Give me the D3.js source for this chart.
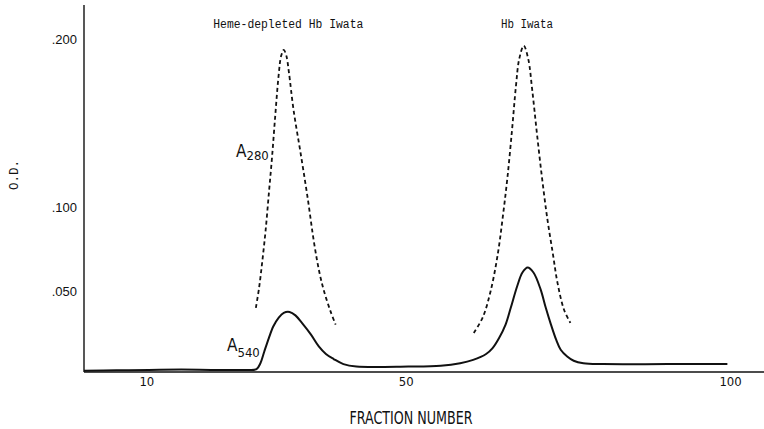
<!DOCTYPE html>
<html>
<head>
<meta charset="utf-8">
<script src="https://cdn.jsdelivr.net/npm/d3@7"></script>
<style>
  body { margin: 0; background: #fff; }
  svg { display: block; }
</style>
</head>
<body>
<svg id="chart" width="764" height="429"></svg>
<script>
// A540 (solid) trace, fraction number vs O.D.
const a540 = [
  [0, 0.0025], [5, 0.0028], [10, 0.003], [15, 0.0032], [20, 0.003], [25, 0.003],
  [26.6, 0.0035], [27.2, 0.007], [27.8, 0.014], [28.5, 0.022], [29.2, 0.029],
  [30.0, 0.034], [30.8, 0.037], [31.7, 0.0375], [32.6, 0.0355], [33.6, 0.031],
  [35, 0.024], [36.2, 0.017], [37.3, 0.0125], [38.5, 0.0095], [40, 0.0065],
  [42, 0.005], [50, 0.005], [55, 0.0055], [58, 0.007], [60, 0.009], [62, 0.0125],
  [63, 0.016], [64, 0.022], [65, 0.030], [65.8, 0.040], [66.8, 0.053], [67.6, 0.061],
  [68.4, 0.064], [69.3, 0.061], [70.4, 0.051], [71.2, 0.040], [72, 0.030],
  [72.8, 0.021], [73.5, 0.015], [74.5, 0.011], [75.5, 0.0085], [77, 0.007],
  [80, 0.0065], [90, 0.0065], [99.2, 0.0065]
]

// A280 (dashed) traces, only drawn around the two peaks
const a280Peak1 = [
  [26.5, 0.040], [27.0, 0.052], [27.5, 0.068], [28.0, 0.086], [28.5, 0.108],
  [29.0, 0.130], [29.5, 0.155], [30.0, 0.178], [30.4, 0.190], [30.8, 0.1935],
  [31.2, 0.190], [31.6, 0.180], [32.3, 0.158], [33.4, 0.132], [34.5, 0.105],
  [35.5, 0.078], [36.3, 0.061], [37.0, 0.050], [38.0, 0.038], [38.8, 0.030]
]
const a280Peak2 = [
  [60.1, 0.025], [61.5, 0.0345], [62.7, 0.050], [63.8, 0.072], [64.6, 0.095],
  [65.3, 0.118], [66.0, 0.146], [66.6, 0.172], [67.1, 0.188], [67.8, 0.196],
  [68.5, 0.188], [69.1, 0.170], [69.8, 0.145], [70.6, 0.118], [71.4, 0.094],
  [72.3, 0.072], [73.0, 0.055], [74.0, 0.039], [75.0, 0.031]
]

const xTicks = [10, 50, 100]
const yTicks = [0.05, 0.1, 0.2]
const peakLabels = [
  {text: "Heme-depleted Hb Iwata", at: 31.5, len: 150},
  {text: "Hb Iwata", at: 68.3, len: 52}
]

const svg = d3.select("#chart")

const x = d3.scaleLinear().domain([0, 105]).range([84, 765])
const y = d3.scaleLinear().domain([0, 0.2]).range([375, 39])
const baseY = 372

const monoFont = "'Liberation Mono', 'DejaVu Sans Mono', monospace"
const narrowFont = "'Liberation Sans Narrow', 'DejaVu Sans Condensed', sans-serif"
const sansFont = "'Liberation Sans', Arial, sans-serif"

//y axis: plain line with labels, no tick marks
svg.append("line")
  .attr("x1", x(0)).attr("x2", x(0))
  .attr("y1", 5).attr("y2", baseY)
  .attr("stroke", "#111").attr("stroke-width", 1.4)

svg.append("g")
  .selectAll("text")
  .data(yTicks)
  .join("text")
  .attr("x", 77)
  .attr("y", d => y(d) + 5)
  .attr("text-anchor", "end")
  .attr("font-family", sansFont)
  .attr("font-size", 13)
  .attr("fill", "#111")
  .text(d => d3.format(".3f")(d).replace(/^0/, ""))

//x axis line
svg.append("line")
  .attr("x1", x(0)).attr("x2", 764)
  .attr("y1", baseY).attr("y2", baseY)
  .attr("stroke", "#111").attr("stroke-width", 1.4)

svg.append("g")
  .selectAll("text")
  .data(xTicks)
  .join("text")
  .attr("x", d => x(d) - 2)
  .attr("y", 386)
  .attr("text-anchor", "middle")
  .attr("font-family", narrowFont)
  .attr("font-size", 13)
  .attr("fill", "#111")
  .text(d => d)

//axis titles
svg.append("text")
  .attr("transform", "translate(18,175) rotate(-90)")
  .attr("text-anchor", "middle")
  .attr("font-family", monoFont)
  .attr("font-size", 13)
  .attr("textLength", 30)
  .attr("lengthAdjust", "spacingAndGlyphs")
  .attr("fill", "#111")
  .text("O.D.")

svg.append("text")
  .attr("x", 411)
  .attr("y", 424)
  .attr("text-anchor", "middle")
  .attr("font-family", narrowFont)
  .attr("font-size", 17)
  .attr("textLength", 123)
  .attr("lengthAdjust", "spacingAndGlyphs")
  .attr("fill", "#111")
  .text("FRACTION NUMBER")

//peak labels
svg.append("g")
  .selectAll("text")
  .data(peakLabels)
  .join("text")
  .attr("x", d => x(d.at))
  .attr("y", 28)
  .attr("text-anchor", "middle")
  .attr("font-family", monoFont)
  .attr("font-size", 12)
  .attr("textLength", d => d.len)
  .attr("lengthAdjust", "spacingAndGlyphs")
  .attr("fill", "#111")
  .text(d => d.text)

//curves
const line = d3.line()
  .x(d => x(d[0]))
  .y(d => y(d[1]))
  .curve(d3.curveCatmullRom.alpha(0.5))

svg.append("path")
  .datum(a540)
  .attr("d", line)
  .attr("fill", "none")
  .attr("stroke", "#111")
  .attr("stroke-width", 2)

svg.selectAll("path.a280")
  .data([a280Peak1, a280Peak2])
  .join("path")
  .attr("class", "a280")
  .attr("d", line)
  .attr("fill", "none")
  .attr("stroke", "#111")
  .attr("stroke-width", 1.8)
  .attr("stroke-dasharray", "4,3")

//trace labels with subscripts
const traceLabels = [
  {main: "A", sub: "280", x: 236, y: 157, dy: 3},
  {main: "A", sub: "540", x: 227, y: 351, dy: 6}
]
traceLabels.forEach(l => {
  let t = svg.append("text")
    .attr("x", l.x).attr("y", l.y)
    .attr("font-family", narrowFont)
    .attr("fill", "#111")
  t.append("tspan").attr("font-size", 17).text(l.main)
  t.append("tspan").attr("font-size", 13).attr("dy", l.dy).text(l.sub)
})
</script>
</body>
</html>
